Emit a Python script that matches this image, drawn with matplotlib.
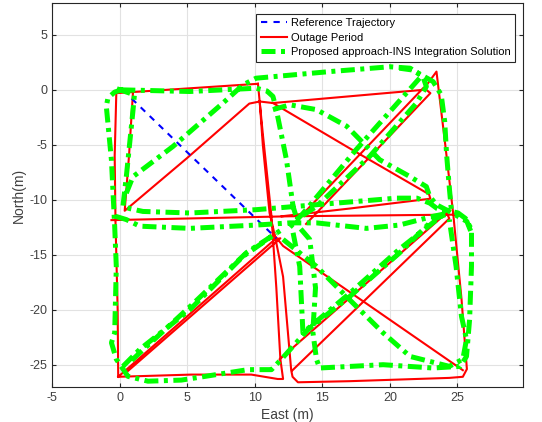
import numpy as np
import matplotlib
matplotlib.use("Agg")
from matplotlib import pyplot as plt

plt.rcParams['font.family'] = ['Liberation Sans', 'DejaVu Sans']
plt.rcParams['axes.unicode_minus'] = False

nan = np.nan

# reference trajectory (East, North) in metres
ref_east = [0.9, 11.6]
ref_north = [-0.8, -13.5]

# outage period (red), pieces separated by nan
red_east = [
    10.24, -0.24, -0.36, -0.3, -0.14, -0.1, 5.3, 9.75, 11.7, 12.1, 11.9, 11.6, 11.24, 10.6, 10.24, nan,
    -0.6, 12.6, 24.9, nan,
    0.99, 0.7, 0.38, 5.0, 9.6, 10.37, 11.35, 22.46, 23.45, 24.1, 24.7, 25.3, 25.7, 25.4, 24.4, 17.0, 13.2,
    12.8, 12.7, 12.1, 11.5, 11.1, 10.6, 10.37, nan,
    11.35, 17.0, 22.9, 23.0, 17.0, 12.0, nan,
    13.1, 22.5, 23.0, 13.8, nan,
    -0.1, 11.5, 11.9, 0.5, nan,
    11.5, 12.1, 25.4, nan,
    11.85, 24.2, 24.4, 12.8,
]
red_north = [
    0.55, -0.3, -6.0, -12.0, -20.0, -26.1, -25.9, -25.9, -26.3, -26.3, -24.5, -18.0, -11.5, -4.0, 0.55, nan,
    -11.85, -11.5, -11.35, nan,
    -0.3, -6.0, -11.0, -6.2, -1.25, -1.06, -1.2, 0.0, 1.66, -5.0, -11.4, -19.0, -25.4, -26.1, -26.2, -26.5, -26.6,
    -26.1, -25.5, -17.0, -13.3, -11.2, -5.0, -1.06, nan,
    -1.2, -5.3, -9.5, -9.9, -10.8, -11.5, nan,
    -11.9, 0.2, -0.3, -12.2, nan,
    -26.1, -13.6, -13.5, -25.7, nan,
    -13.3, -14.2, -25.5, nan,
    -24.5, -11.2, -11.7, -25.5,
]

# proposed approach - INS integration solution (green)
green_east = [
    0.3, -0.36, -0.86, -0.98, -0.6, -0.36, -0.24, -0.36, -0.6, -0.24, 0.62, 2.1, 4.57, 9.5, 11.24, 11.98,
    13.95, 17.03, 20.7, 23.2, 24.4, nan,
    0.13, 5.2, 10.1, 10.9, 11.35, 11.6, 12.35, 12.84, 13.3, 14.07, 14.5, 14.3, 14.57, 14.8, 19.5, 23.2,
    25.2, 25.67, 25.9, 26.04, 26.04, 25.6, 25.05, 24.56, 24.4, 24.2, 24.06, 23.8, 23.2, 21.7, 20.7, nan,
    -0.2, 1.1, 1.0, 0.5, 0.25, 0.75, 1.73, 5.2, 10.1, 13.1, 20.5, 22.0, 22.95, 23.5, 24.4, nan,
    -0.3, 0.5, 1.5, 5.2, 10.1, 12.6, 14.57, 18.27, 20.7, 23.2, 24.4, nan,
    0.5, 0.99, 3.95, 7.65, 9.13, 10.1, 15.55, 20.0, 21.5, 22.45, 22.7, 21.97, 18.5, 14.57, 13.09, nan,
    22.2, 21.0, 17.5, 13.6, 12.6, nan,
    11.35, 12.6, 14.57, 16.8, 19.25, 21.5, 22.7, 22.95, 23.45, 24.4, 25.7, 26.0, nan,
    0.25, 1.5, 5.2, 9.13, 10.6, 11.6, nan,
    0.9, 5.4, 9.4, 11.9, nan,
    12.84, 13.33, 13.57, 17.03, 20.7, 24.4, nan,
    12.1, 14.57, 17.03, 19.5, 21.5, 24.4, 25.4, 25.67, 25.3, 24.9, 24.4,
]
green_north = [
    0.05, -0.2, -0.75, -1.5, -6.4, -12.4, -16.1, -22.1, -23.0, -24.5, -26.06, -26.5, -26.4, -25.45, -25.45, -24.5,
    -21.8, -18.8, -14.85, -11.8, -11.2, nan,
    0.0, -0.15, 0.15, -0.1, -0.6, -1.8, -6.36, -10.6, -12.5, -13.6, -18.0, -22.0, -24.5, -25.3, -25.0, -25.3,
    -25.15, -24.25, -20.9, -16.06, -12.7, -11.7, -11.2, -11.06, -8.9, -5.9, -2.9, -0.45, 0.75, 1.8, 1.97, nan,
    0.1, -0.45, -1.8, -7.9, -10.6, -10.8, -11.06, -11.2, -10.9, -10.6, -9.85, -9.85, -10.3, -10.8, -11.2, nan,
    -11.5, -11.8, -12.4, -12.6, -12.3, -12.1, -12.1, -12.6, -12.3, -11.5, -11.2, nan,
    -9.4, -7.9, -5.15, -1.2, 0.45, 1.06, 1.66, 2.1, 1.97, 1.2, 0.3, -1.2, -6.06, -10.6, -11.8, nan,
    1.06, -0.6, -5.45, -11.2, -12.5, nan,
    -1.8, -1.36, -1.8, -3.3, -6.36, -7.9, -8.8, -9.7, -10.45, -11.06, -11.97, -12.9, nan,
    -25.15, -23.6, -20.0, -15.15, -13.9, -13.03, nan,
    -24.6, -19.5, -14.8, -12.8, nan,
    -13.0, -16.06, -22.1, -18.5, -14.5, -10.9, nan,
    -13.6, -16.06, -19.1, -22.1, -24.25, -25.15, -24.5, -22.7, -20.6, -16.06, -11.8,
]

fig = plt.figure(figsize=(5.42, 4.22), dpi=100)
ax = fig.add_axes([0.0959, 0.0829, 0.869, 0.910])

ax.plot(ref_east, ref_north, color='#0000ff', lw=1.5, dashes=(3, 3), label='Reference Trajectory', zorder=3)
ax.plot(red_east, red_north, color='#ff0000', lw=1.5, label='Outage Period', zorder=2)
ax.plot(green_east, green_north, color='#00ff00', lw=3.6, dashes=(2.8, 1.1, 0.8, 1.1),
        label='Proposed approach-INS Integration Solution', zorder=4)

ax.set_xlim(-5, 29.85)
ax.set_ylim(-27.03, 7.9)
ax.set_xticks(np.arange(-5, 26, 5))
ax.set_yticks(np.arange(-25, 6, 5))
ax.grid(True, color='#e2e2e2', lw=0.8)
ax.set_axisbelow(True)
ax.tick_params(direction='in', top=True, right=True, labelsize=9, colors='#262626', labelcolor='#404040', length=3)
for s in ax.spines.values():
    s.set_color('#262626')
    s.set_linewidth(0.8)

ax.set_xlabel('East (m)', fontsize=10, color='#404040', labelpad=3)
ax.set_ylabel('North(m)', fontsize=10, color='#404040', labelpad=2)

leg = ax.legend(loc='upper right', bbox_to_anchor=(0.983, 0.972), borderaxespad=0, fontsize=8,
                fancybox=False, handlelength=2.4, handletextpad=0.3, borderpad=0.4, labelspacing=0.4,
                framealpha=1)
leg.get_frame().set_edgecolor('#262626')
leg.get_frame().set_linewidth(0.8)

plt.savefig('out.png', dpi=100)
plt.close()
